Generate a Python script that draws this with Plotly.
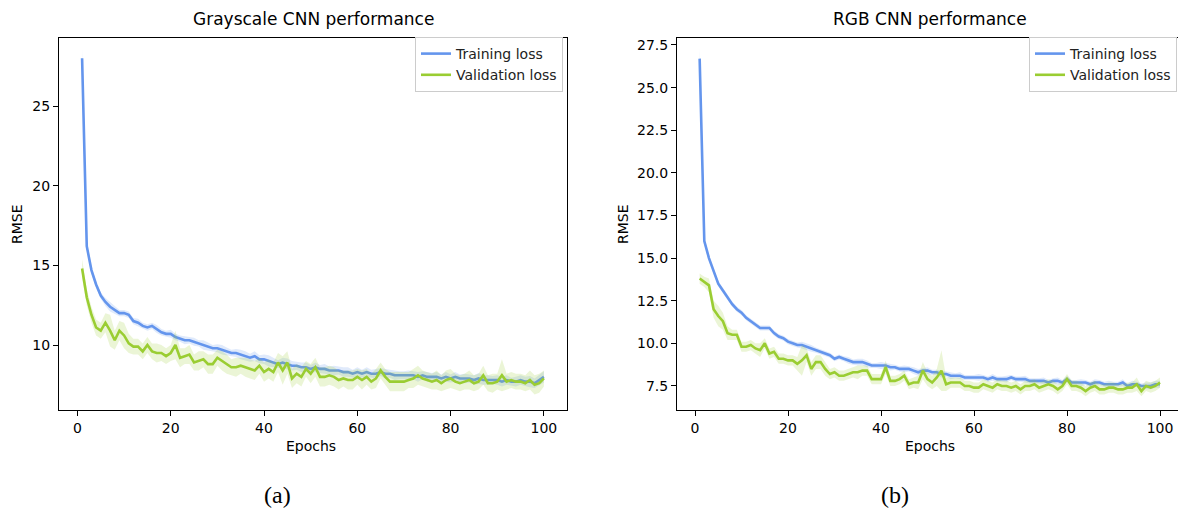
import plotly.graph_objects as go

epochs = list(range(1, 101))

gray_train = [28.0, 16.2, 14.7, 13.8, 13.1, 12.7, 12.4, 12.2, 12.0, 12.0,
              11.9, 11.5, 11.4, 11.2, 11.1, 11.2, 11.0, 10.8, 10.7, 10.7,
              10.5, 10.4, 10.3, 10.3, 10.2, 10.1, 10.0, 9.9, 9.8, 9.8,
              9.7, 9.6, 9.5, 9.5, 9.4, 9.3, 9.2, 9.3, 9.1, 9.1,
              9.0, 8.9, 8.8, 8.9, 8.8, 8.7, 8.7, 8.6, 8.6, 8.5,
              8.6, 8.5, 8.5, 8.4, 8.4, 8.4, 8.3, 8.3, 8.2, 8.3,
              8.2, 8.3, 8.2, 8.2, 8.3, 8.2, 8.2, 8.1, 8.1, 8.1,
              8.1, 8.1, 8.0, 8.1, 8.0, 8.0, 8.0, 7.9, 8.0, 7.9,
              8.0, 7.9, 7.9, 7.9, 7.8, 7.9, 7.8, 7.8, 7.8, 7.8,
              7.7, 7.8, 7.7, 7.7, 7.8, 7.7, 7.7, 7.6, 7.8, 8.0]
gray_train_sd = [0.6, 0.3, 0.25, 0.2, 0.2, 0.25, 0.3, 0.25, 0.2, 0.2,
                 0.2, 0.2, 0.25, 0.2, 0.2, 0.2, 0.25, 0.2, 0.2, 0.25,
                 0.2, 0.2, 0.25, 0.2, 0.25, 0.2, 0.3, 0.25, 0.2, 0.25,
                 0.3, 0.25, 0.2, 0.25, 0.3, 0.3, 0.25, 0.3, 0.25, 0.3,
                 0.35, 0.3, 0.25, 0.3, 0.35, 0.3, 0.25, 0.3, 0.3, 0.25,
                 0.3, 0.25, 0.3, 0.25, 0.3, 0.25, 0.3, 0.3, 0.25, 0.3,
                 0.25, 0.3, 0.25, 0.3, 0.25, 0.3, 0.25, 0.3, 0.25, 0.25,
                 0.3, 0.25, 0.3, 0.25, 0.3, 0.25, 0.3, 0.25, 0.3, 0.25,
                 0.3, 0.25, 0.3, 0.25, 0.3, 0.35, 0.3, 0.3, 0.25, 0.3,
                 0.3, 0.3, 0.25, 0.3, 0.3, 0.3, 0.35, 0.3, 0.35, 0.35]
gray_val = [14.8, 13.0, 11.9, 11.1, 10.9, 11.4, 10.9, 10.3, 10.9, 10.6,
            10.1, 9.9, 9.9, 9.6, 10.0, 9.6, 9.5, 9.5, 9.3, 9.5,
            10.0, 9.2, 9.3, 9.4, 8.9, 9.0, 9.1, 8.8, 8.8, 9.2,
            9.0, 8.8, 8.6, 8.6, 8.7, 8.6, 8.5, 8.4, 8.7, 8.3,
            8.5, 8.3, 8.9, 8.4, 8.9, 7.9, 8.2, 8.0, 8.5, 8.2,
            8.6, 8.0, 8.0, 8.1, 8.0, 7.8, 7.9, 7.8, 7.8, 8.0,
            7.8, 8.0, 7.7, 7.9, 8.4, 8.0, 7.7, 7.7, 7.7, 7.7,
            7.8, 7.9, 8.1, 7.9, 7.8, 7.7, 7.8, 7.6, 7.8, 7.9,
            7.7, 7.6, 7.7, 7.8, 7.6, 7.7, 8.1, 7.6, 7.6, 7.7,
            8.1, 7.7, 7.8, 7.7, 7.7, 7.6, 7.8, 7.5, 7.6, 7.9]
gray_val_sd = [0.6, 0.5, 0.5, 0.5, 0.5, 0.6, 1.0, 0.6, 0.6, 0.8,
               0.6, 0.5, 0.5, 0.5, 0.5, 0.5, 0.6, 0.5, 0.5, 0.5,
               0.9, 0.6, 0.5, 0.6, 0.5, 0.6, 0.5, 0.6, 0.6, 0.5,
               0.6, 0.6, 0.5, 0.6, 0.5, 0.6, 0.6, 0.6, 0.5, 0.6,
               0.6, 0.6, 0.6, 0.9, 0.7, 0.6, 0.6, 0.6, 0.5, 0.6,
               0.6, 0.6, 0.6, 0.6, 0.6, 0.6, 0.5, 0.6, 0.6, 0.5,
               0.6, 0.5, 0.5, 0.6, 0.5, 0.5, 0.6, 0.6, 0.6, 0.6,
               0.5, 0.6, 0.6, 0.5, 0.5, 0.5, 0.6, 0.5, 0.6, 0.6,
               0.5, 0.5, 0.5, 0.6, 0.5, 0.5, 0.6, 0.5, 0.6, 0.5,
               1.0, 0.5, 0.5, 0.5, 0.5, 0.5, 0.6, 0.6, 0.6, 0.5]

rgb_train = [26.7, 16.0, 15.0, 14.2, 13.5, 13.1, 12.7, 12.3, 12.0, 11.8,
             11.5, 11.3, 11.1, 10.9, 10.9, 10.9, 10.6, 10.4, 10.3, 10.1,
             10.0, 9.9, 9.9, 9.8, 9.7, 9.6, 9.5, 9.4, 9.3, 9.1,
             9.2, 9.1, 9.0, 8.9, 8.9, 8.9, 8.8, 8.7, 8.7, 8.7,
             8.7, 8.6, 8.6, 8.5, 8.5, 8.5, 8.4, 8.3, 8.4, 8.4,
             8.3, 8.3, 8.2, 8.2, 8.1, 8.1, 8.1, 8.0, 8.0, 8.0,
             8.0, 8.0, 7.9, 8.0, 7.9, 7.9, 7.9, 8.0, 7.9, 7.9,
             7.9, 7.8, 7.8, 7.8, 7.8, 7.7, 7.8, 7.8, 7.7, 7.9,
             7.7, 7.7, 7.7, 7.7, 7.6, 7.7, 7.7, 7.6, 7.6, 7.6,
             7.6, 7.7, 7.5, 7.6, 7.6, 7.5, 7.5, 7.5, 7.6, 7.6]
rgb_train_sd = [0.6, 0.2, 0.2, 0.15, 0.15, 0.15, 0.15, 0.15, 0.15, 0.15,
                0.15, 0.15, 0.15, 0.15, 0.15, 0.15, 0.15, 0.15, 0.15, 0.15,
                0.15, 0.15, 0.2, 0.2, 0.2, 0.15, 0.15, 0.15, 0.15, 0.15,
                0.15, 0.15, 0.2, 0.15, 0.2, 0.2, 0.2, 0.15, 0.15, 0.2,
                0.15, 0.2, 0.15, 0.15, 0.2, 0.15, 0.2, 0.2, 0.15, 0.2,
                0.15, 0.15, 0.2, 0.15, 0.2, 0.15, 0.2, 0.15, 0.15, 0.15,
                0.2, 0.15, 0.15, 0.2, 0.15, 0.15, 0.2, 0.15, 0.15, 0.15,
                0.2, 0.15, 0.15, 0.15, 0.2, 0.15, 0.15, 0.2, 0.15, 0.2,
                0.15, 0.15, 0.2, 0.15, 0.15, 0.2, 0.15, 0.15, 0.2, 0.15,
                0.15, 0.2, 0.15, 0.2, 0.15, 0.15, 0.2, 0.2, 0.2, 0.2]
rgb_val = [13.8, 13.6, 13.4, 12.0, 11.6, 11.3, 10.6, 10.5, 10.5, 9.8,
           9.8, 9.9, 9.7, 9.6, 10.0, 9.4, 9.5, 9.1, 9.1, 9.0,
           9.0, 8.8, 9.0, 9.3, 8.5, 8.9, 8.9, 8.5, 8.2, 8.3,
           8.1, 8.1, 8.2, 8.3, 8.3, 8.4, 8.4, 7.9, 7.9, 7.9,
           8.6, 7.8, 7.8, 7.9, 8.1, 7.6, 7.7, 7.7, 8.4, 7.9,
           7.7, 8.0, 8.4, 7.6, 7.7, 7.7, 7.7, 7.5, 7.5, 7.4,
           7.4, 7.6, 7.5, 7.4, 7.6, 7.5, 7.5, 7.4, 7.5, 7.3,
           7.5, 7.5, 7.6, 7.4, 7.5, 7.6, 7.5, 7.3, 7.5, 7.9,
           7.5, 7.5, 7.4, 7.2, 7.4, 7.5, 7.3, 7.3, 7.4, 7.4,
           7.3, 7.3, 7.4, 7.4, 7.6, 7.2, 7.5, 7.4, 7.5, 7.7]
rgb_val_sd = [0.3, 0.3, 0.4, 0.5, 0.6, 0.5, 0.4, 0.3, 0.3, 0.3,
              0.3, 0.3, 0.3, 0.4, 0.3, 0.3, 0.3, 0.3, 0.3, 0.3,
              0.3, 0.4, 0.9, 0.4, 0.4, 0.4, 0.4, 0.4, 0.3, 0.3,
              0.3, 0.3, 0.3, 0.3, 0.4, 0.3, 0.3, 0.3, 0.3, 0.3,
              0.4, 0.3, 0.3, 0.3, 0.3, 0.3, 0.3, 0.4, 0.5, 0.4,
              0.4, 0.5, 1.2, 0.4, 0.3, 0.3, 0.3, 0.3, 0.3, 0.3,
              0.3, 0.3, 0.3, 0.3, 0.3, 0.3, 0.3, 0.3, 0.3, 0.3,
              0.3, 0.3, 0.3, 0.3, 0.3, 0.3, 0.3, 0.3, 0.3, 0.3,
              0.3, 0.3, 0.3, 0.3, 0.3, 0.3, 0.3, 0.3, 0.3, 0.3,
              0.3, 0.3, 0.3, 0.3, 0.4, 0.3, 0.3, 0.3, 0.3, 0.3]

x_ticks = [0, 20, 40, 60, 80, 100]
gray_y_ticks = [10, 15, 20, 25]
rgb_y_ticks = [7.5, 10.0, 12.5, 15.0, 17.5, 20.0, 22.5, 25.0, 27.5]

BLUE = "#6495ED"
GREEN = "#9ACD32"
BLUE_FILL = "rgba(100,149,237,0.2)"
GREEN_FILL = "rgba(154,205,50,0.2)"
FONT = "DejaVu Sans"

fig = go.Figure()


def add_series(xa, ya, mean, sd, color, fill, name, legend, show):
    upper = [m + s for m, s in zip(mean, sd)]
    lower = [m - s for m, s in zip(mean, sd)]
    fig.add_trace(go.Scatter(x=epochs, y=upper, mode="lines", line=dict(width=0),
                             showlegend=False, hoverinfo="skip", xaxis=xa, yaxis=ya))
    fig.add_trace(go.Scatter(x=epochs, y=lower, mode="lines", line=dict(width=0),
                             fill="tonexty", fillcolor=fill, showlegend=False,
                             hoverinfo="skip", xaxis=xa, yaxis=ya))
    fig.add_trace(go.Scatter(x=epochs, y=mean, mode="lines", name=name,
                             line=dict(color=color, width=2.6),
                             legend=legend, showlegend=show, xaxis=xa, yaxis=ya))


add_series("x", "y", gray_train, gray_train_sd, BLUE, BLUE_FILL, "Training loss", "legend", True)
add_series("x", "y", gray_val, gray_val_sd, GREEN, GREEN_FILL, "Validation loss", "legend", True)
add_series("x2", "y2", rgb_train, rgb_train_sd, BLUE, BLUE_FILL, "Training loss", "legend2", True)
add_series("x2", "y2", rgb_val, rgb_val_sd, GREEN, GREEN_FILL, "Validation loss", "legend2", True)

W, H = 1178, 512


def px(x):
    return x / W


def py(y):
    return (H - y) / H


axis_common = dict(showgrid=False, zeroline=False, showline=True, linecolor="black",
                   linewidth=1, ticks="outside", ticklen=5, tickwidth=1, tickcolor="black",
                   tickfont=dict(family=FONT, size=14, color="black"))

ydom = [py(410), py(38)]

legend_common = dict(xanchor="right", yanchor="top", bgcolor="white",
                     bordercolor="#cccccc", borderwidth=1, traceorder="normal",
                     font=dict(family=FONT, size=14, color="#222222"), tracegroupgap=0)

fig.update_layout(
    width=W, height=H, margin=dict(l=0, r=0, t=0, b=0),
    paper_bgcolor="white", plot_bgcolor="white",
    font=dict(family=FONT, size=14, color="black"),
    xaxis=dict(domain=[px(59), px(567)], range=[-3.95, 104.95], tickvals=x_ticks,
               mirror=True, anchor="y", **axis_common),
    yaxis=dict(domain=ydom, range=[5.92, 29.27], tickvals=gray_y_ticks,
               mirror=True, anchor="x", **axis_common),
    xaxis2=dict(domain=[px(677), 1.0], range=[-3.87, (1178 - 695) / 4.65], tickvals=x_ticks,
                mirror=True, anchor="y2", **axis_common),
    yaxis2=dict(domain=ydom, range=[6.09, 27.91], tickvals=rgb_y_ticks, tickformat=".1f",
                mirror=False, anchor="x2", **axis_common),
    legend=dict(x=px(563), y=py(37), **legend_common),
    legend2=dict(x=px(1177), y=py(37), **legend_common),
)

annotations = [
    dict(text="Grayscale CNN performance", x=px(313), y=py(19), size=17),
    dict(text="RGB CNN performance", x=px(930), y=py(19), size=17),
    dict(text="Epochs", x=px(311), y=py(446), size=14),
    dict(text="Epochs", x=px(930), y=py(446), size=14),
]
for a in annotations:
    fig.add_annotation(text=a["text"], x=a["x"], y=a["y"], xref="paper", yref="paper",
                       xanchor="center", yanchor="middle", showarrow=False,
                       font=dict(family=FONT, size=a["size"], color="black"))

for xpos in (17, 623):
    fig.add_annotation(text="RMSE", x=px(xpos), y=py(224), xref="paper", yref="paper",
                       xanchor="center", yanchor="middle", showarrow=False, textangle=-90,
                       font=dict(family=FONT, size=14, color="black"))

for label, xpos in (("(a)", 277), ("(b)", 895)):
    fig.add_annotation(text=label, x=px(xpos), y=py(495), xref="paper", yref="paper",
                       xanchor="center", yanchor="middle", showarrow=False,
                       font=dict(family="Liberation Serif", size=24, color="black"))

fig.write_html("out.html")
